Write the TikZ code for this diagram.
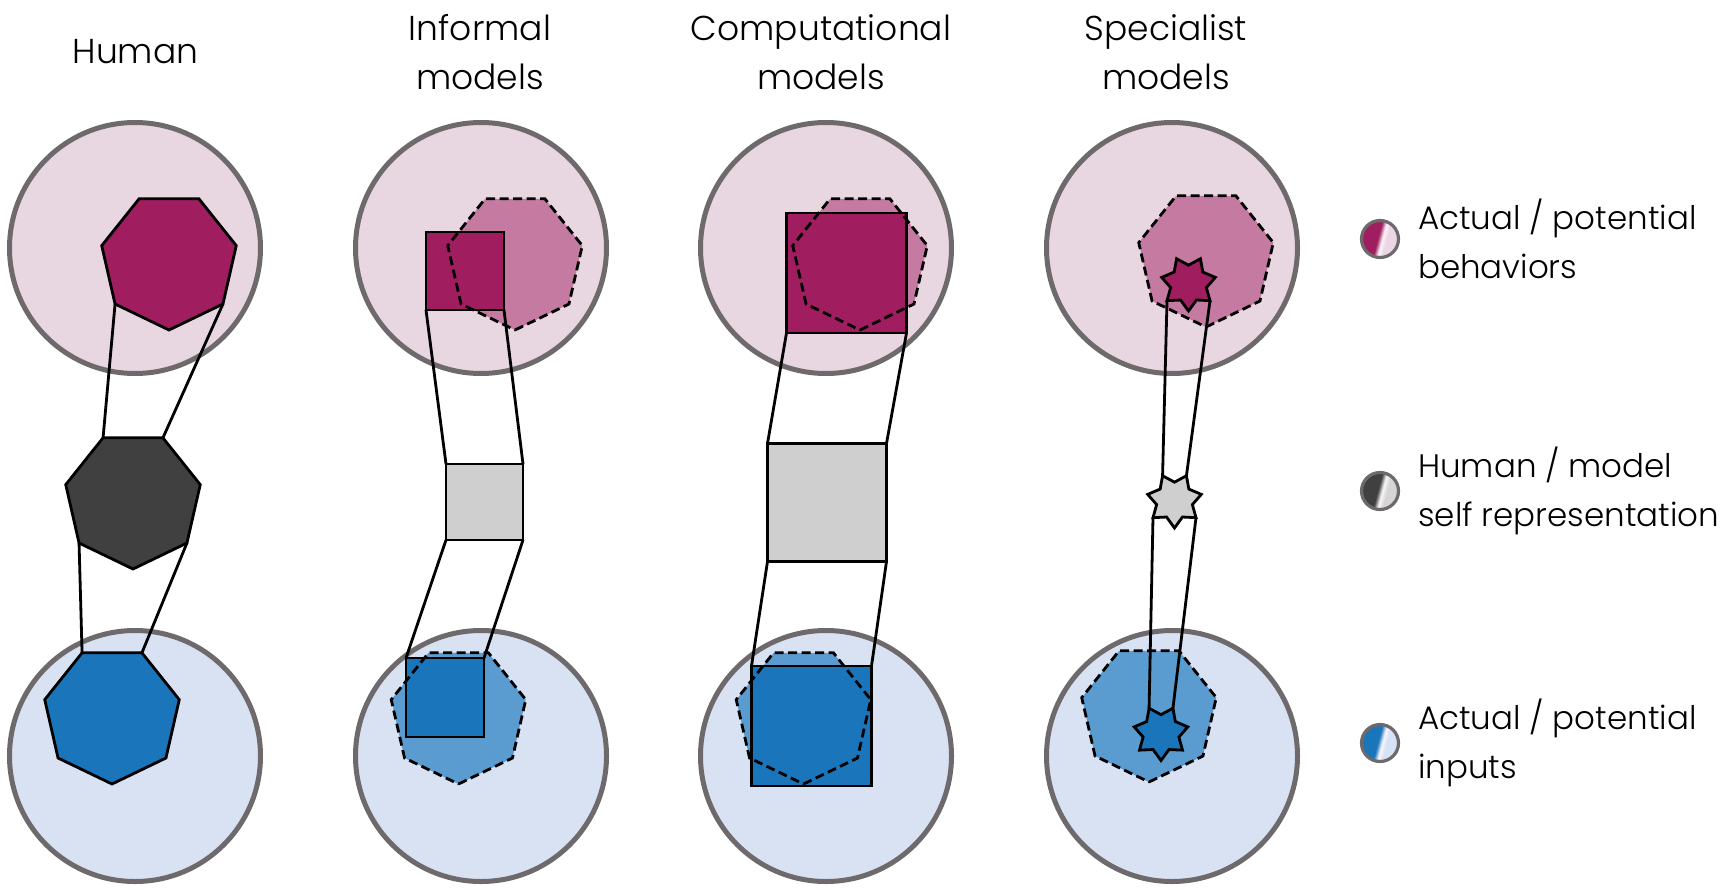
\documentclass[tikz,border=0pt]{standalone}
\usepackage{fontspec}
\setmainfont{Poppins Light}
\usetikzlibrary{shapes.geometric}
\definecolor{pinkbg}{RGB}{232,214,225}
\definecolor{bluebg}{RGB}{217,226,243}
\definecolor{ringgray}{RGB}{110,106,108}
\definecolor{magD}{RGB}{160,30,96}
\definecolor{magM}{RGB}{197,122,161}
\definecolor{darkG}{RGB}{64,64,64}
\definecolor{lightG}{RGB}{207,207,207}
\definecolor{blueD}{RGB}{26,117,187}
\definecolor{blueM}{RGB}{90,156,208}
\definecolor{magL}{RGB}{236,214,228}
\definecolor{grayL}{RGB}{214,214,214}
\definecolor{blueL}{RGB}{214,226,245}
\definecolor{hiW}{RGB}{250,246,249}
\pgfdeclarehorizontalshading{legmag}{100bp}{color(0bp)=(magD); color(47bp)=(magD); color(53bp)=(hiW); color(59bp)=(magL); color(100bp)=(magL)}
\pgfdeclarehorizontalshading{leggray}{100bp}{color(0bp)=(darkG); color(47bp)=(darkG); color(53bp)=(hiW); color(59bp)=(grayL); color(100bp)=(grayL)}
\pgfdeclarehorizontalshading{legblue}{100bp}{color(0bp)=(blueD); color(47bp)=(blueD); color(53bp)=(hiW); color(59bp)=(blueL); color(100bp)=(blueL)}
\tikzset{
  ring/.style={circle, draw=ringgray, line width=5pt, minimum size=251pt, inner sep=0pt, outer sep=0pt},
  behav/.style={ring, fill=pinkbg},
  inp/.style={ring, fill=bluebg},
  hept/.style={regular polygon, regular polygon sides=7, shape border rotate=180, minimum size=138pt, inner sep=0pt, outer sep=0pt, line width=2.8pt},
  solidhept/.style={hept, draw=black},
  pothept/.style={hept, draw=none},
  potline/.style={hept, draw=black, dash pattern=on 9pt off 4.5pt},
  sq/.style={rectangle, draw=black, line width=2.8pt, inner sep=0pt, outer sep=0pt},
  st/.style={star, star points=7, star point ratio=1.5, shape border rotate=180, minimum size=55pt, inner sep=0pt, outer sep=0pt, draw=black, line width=2.8pt},
  link/.style={draw=black, line width=2.8pt, line cap=round},
  ttl/.style={font=\fontsize{34.5}{49.6}\selectfont, inner sep=0pt, text=black},
  lbl/.style={font=\fontsize{32.5}{49.6}\selectfont, inner sep=0pt, text=black},
  leg/.style={circle, draw=ringgray, line width=3.2pt, minimum size=37pt, inner sep=0pt, shading angle=-15}
}
\begin{document}
\begin{tikzpicture}[x=1pt,y=-1pt]
\useasboundingbox (0,0) rectangle (1727,889);
% titles
\node[ttl] (ti1) at (135.5,52) {Human};
\node[ttl, align=center] (ti2) at (480,52) {Informal\\models};
\node[ttl, align=center] (ti3) at (821,52) {Computational\\models};
\node[ttl, align=center] (ti4) at (1166,52) {Specialist\\models};
% circles
\node[behav] (t1) at (135,248) {};
\node[inp] (b1) at (135,756) {};
\node[behav] (t2) at (481,248) {};
\node[inp] (b2) at (481,756) {};
\node[behav] (t3) at (826,248) {};
\node[inp] (b3) at (826,756) {};
\node[behav] (t4) at (1172,248) {};
\node[inp] (b4) at (1172,756) {};
% column 1: human
\node[solidhept, fill=magD] (h1b) at (169,261) {};
\node[solidhept, fill=darkG] (h1s) at (133,500) {};
\node[solidhept, fill=blueD] (h1i) at (112,715) {};
% column 2: informal
\node[pothept, fill=magM] (p2b) at (515,261) {};
\node[pothept, fill=blueM] (p2i) at (458.5,715) {};
\node[sq, fill=magD, minimum width=78pt, minimum height=78pt] (r2b) at (465,271) {};
\node[sq, fill=lightG, minimum width=77pt, minimum height=76pt] (r2s) at (484.5,502) {};
\node[sq, fill=blueD, minimum width=78pt, minimum height=79pt] (r2i) at (445,697.5) {};
\node[potline] (o2b) at (p2b.center) {};
\node[potline] (o2i) at (p2i.center) {};
% column 3: computational
\node[pothept, fill=magM] (p3b) at (860,261) {};
\node[pothept, fill=blueM] (p3i) at (803.5,715) {};
\node[sq, fill=magD, minimum width=120pt, minimum height=120pt] (r3b) at (846.5,273) {};
\node[sq, fill=lightG, minimum width=119pt, minimum height=118pt] (r3s) at (827,502.5) {};
\node[sq, fill=blueD, minimum width=120pt, minimum height=120pt] (r3i) at (811.5,726) {};
\node[potline] (o3b) at (p3b.center) {};
\node[potline] (o3i) at (p3i.center) {};
% column 4: specialist
\node[pothept, fill=magM] (p4b) at (1206,258) {};
\node[pothept, fill=blueM] (p4i) at (1149,713) {};
\node[potline] (o4b) at (p4b.center) {};
\node[potline] (o4i) at (p4i.center) {};
\node[st, fill=magD] (s4b) at (1188.5,283.5) {};
\node[st, fill=lightG] (s4s) at (1174.5,500.5) {};
\node[st, fill=blueD] (s4i) at (1161,733) {};
% connectors
\draw[link] (h1b.corner 7) -- (h1s.corner 5);
\draw[link] (h1b.corner 2) -- (h1s.corner 4);
\draw[link] (h1s.corner 7) -- (h1i.corner 5);
\draw[link] (h1s.corner 2) -- (h1i.corner 4);
\draw[link] (r2b.south west) -- (r2s.north west);
\draw[link] (r2b.south east) -- (r2s.north east);
\draw[link] (r2s.south west) -- (r2i.north west);
\draw[link] (r2s.south east) -- (r2i.north east);
\draw[link] (r3b.south west) -- (r3s.north west);
\draw[link] (r3b.south east) -- (r3s.north east);
\draw[link] (r3s.south west) -- (r3i.north west);
\draw[link] (r3s.south east) -- (r3i.north east);
\draw[link] (s4b.outer point 7) -- (s4s.outer point 5);
\draw[link] (s4b.outer point 2) -- (s4s.outer point 4);
\draw[link] (s4s.outer point 7) -- (s4i.outer point 5);
\draw[link] (s4s.outer point 2) -- (s4i.outer point 4);
% legend
\node[leg, shading=legmag] (k1) at (1380,239) {};
\node[lbl, anchor=west, align=left] (k1t) at (1418,239) {Actual / potential\\behaviors};
\node[leg, shading=leggray] (k2) at (1380,491) {};
\node[lbl, anchor=west, align=left] (k2t) at (1418,491) {Human / model\\self representation};
\node[leg, shading=legblue] (k3) at (1380,743) {};
\node[lbl, anchor=west, align=left] (k3t) at (1418,743) {Actual / potential\\inputs};
\end{tikzpicture}
\end{document}
